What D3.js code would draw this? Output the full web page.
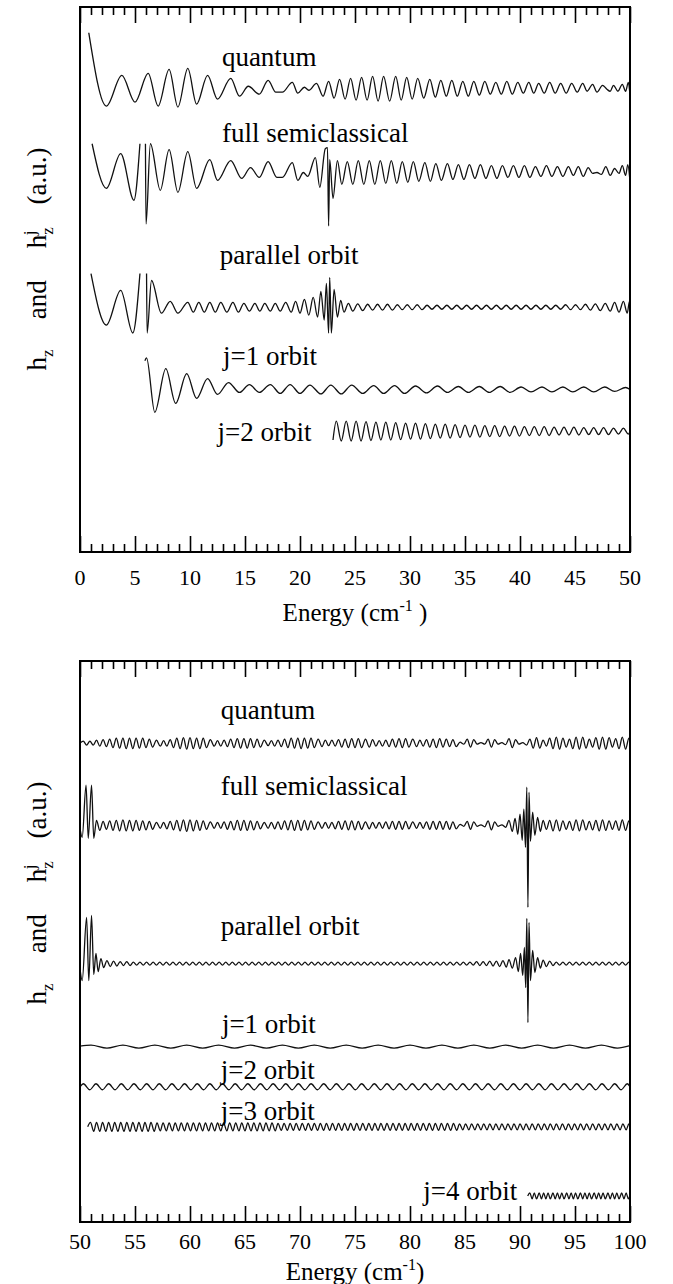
<!DOCTYPE html>
<html>
<head>
<meta charset="utf-8">
<script src="https://cdnjs.cloudflare.com/ajax/libs/d3/7.8.5/d3.min.js"></script>
<style>
  body { margin: 0; background: #fff; }
</style>
</head>
<body>
<svg id="chart" width="673" height="1284" font-family="'Liberation Serif', Tinos, 'Times New Roman', 'DejaVu Serif', serif"></svg>
<script>
// ---- data: extrema [energy (cm^-1), h (a.u., relative to trace baseline)], null = break ----
const tickLabels1 = [0, 5, 10, 15, 20, 25, 30, 35, 40, 45, 50];
const tickLabels2 = [50, 55, 60, 65, 70, 75, 80, 85, 90, 95, 100];
const names1 = ["quantum", "full semiclassical", "parallel orbit", "j=1 orbit", "j=2 orbit"];
const names2 = ["quantum", "full semiclassical", "parallel orbit", "j=1 orbit", "j=2 orbit", "j=3 orbit", "j=4 orbit"];
const offsets1 = [46.8, 38.4, 24.7, 16.4, 12.2];
const offsets2 = [47.8, 39.6, 25.8, 17.5, 13.5, 9.5, 2.6];

const quantum1 = [[0.8,5.6],[2.4,-1.8],[3.8,1.3],[5.0,-1.4],[6.2,1.5],[7.1,-1.8],[8.1,1.9],[8.9,-1.9],[9.8,2.0],[10.6,-1.6],[11.6,1.3],[12.5,-1.1],[13.7,1.0],[14.5,-0.8],[15.3,0.2],[16.3,-0.6],[17.1,0.8],[17.8,-0.4],[18.4,-0.4],[19.3,0.6],[19.8,-0.5],[20.4,0.1],[20.8,-0.2],[21.5,0.5],[22.1,-0.8],[22.6,0.7],[23.1,-1.0],[23.6,0.9],[24.1,-1.1],[24.6,1.0],[25.1,-1.2],[25.6,1.1],[26.1,-1.2],[26.6,1.2],[27.1,-1.3],[27.6,1.2],[28.15,-1.3],[28.7,1.2],[29.2,-1.2],[29.7,1.1],[30.2,-1.1],[30.7,1.0],[31.25,-1.0],[31.8,0.9],[32.3,-0.9],[32.8,0.8],[33.3,-0.8],[33.8,0.8],[34.3,-0.8],[34.8,0.7],[35.3,-0.8],[35.8,0.7],[36.3,-0.7],[36.8,0.7],[37.3,-0.6],[37.8,0.6],[38.3,-0.6],[38.8,0.7],[39.3,-0.6],[39.8,0.6],[40.3,-0.5],[40.8,0.6],[41.25,-0.5],[41.7,0.5],[42.2,-0.5],[42.7,0.6],[43.2,-0.5],[43.7,0.5],[44.2,-0.5],[44.7,0.5],[45.2,-0.4],[45.7,0.5],[46.1,-0.3],[46.6,0.4],[47.0,-0.4],[47.5,0.3],[47.9,-0.1],[48.2,-0.3],[48.5,0.3],[48.9,-0.3],[49.3,0.4],[49.6,-0.3],[49.85,0.6],[50.0,-0.7]];

const semiclassical1 = [[1.1,2.8],[2.4,-1.7],[3.7,1.8],[4.9,-2.9],[5.45,2.8],null,[5.95,2.8],[6.0,-5.3],[6.4,2.8],[7.3,-1.9],[8.1,2.2],[8.9,-2.1],[9.8,2.0],[10.6,-1.7],[11.8,1.2],[12.5,-0.9],[13.7,1.1],[14.7,-0.7],[15.5,0.4],[16.3,-0.6],[17.1,1.0],[17.9,-0.6],[18.4,-0.6],[19.3,0.9],[19.8,-0.9],[20.3,-0.1],[20.7,-0.5],[21.4,1.4],[21.8,-1.6],[22.3,2.3],[22.5,2.4],[22.6,-5.5],[22.7,1.2],[23.0,-2.7],[23.4,1.1],[23.8,-1.3],[24.3,1.0],[24.8,-1.3],[25.3,1.1],[25.8,-1.3],[26.3,1.1],[26.8,-1.3],[27.3,1.1],[27.8,-1.2],[28.3,1.1],[28.8,-1.2],[29.3,1.0],[29.8,-1.1],[30.3,1.0],[30.8,-1.0],[31.35,0.9],[31.85,-1.0],[32.35,0.8],[32.85,-0.9],[33.4,0.8],[33.9,-0.8],[34.4,0.7],[34.9,-0.8],[35.4,0.7],[35.9,-0.7],[36.4,0.7],[36.9,-0.7],[37.4,0.6],[37.9,-0.7],[38.4,0.6],[38.9,-0.6],[39.4,0.6],[39.9,-0.6],[40.4,0.6],[40.9,-0.6],[41.4,0.5],[41.9,-0.5],[42.4,0.6],[42.9,-0.5],[43.4,0.5],[43.9,-0.5],[44.4,0.5],[44.85,-0.4],[45.3,0.5],[45.75,-0.5],[46.2,0.4],[46.6,-0.2],[47.0,-0.1],[47.4,-0.3],[47.8,0.5],[48.2,-0.4],[48.6,0.3],[49.0,-0.2],[49.3,0.6],[49.6,-0.4],[49.8,0.7],[50.0,-1.0]];

const parallel1 = [[1.0,3.4],[2.4,-1.8],[3.7,1.7],[4.8,-2.6],[5.45,3.4],null,[6.05,3.4],[6.1,-2.6],[6.5,2.7],[7.4,-0.6],[8.2,0.6],[8.9,-0.6],[9.8,0.5],[10.3,-0.5],[10.8,0.5],[11.3,-0.5],[11.8,0.5],[12.3,-0.5],[12.8,0.5],[13.35,-0.5],[13.9,0.5],[14.4,-0.5],[14.9,0.4],[15.4,-0.4],[15.9,0.4],[16.35,-0.4],[16.8,0.4],[17.3,-0.4],[17.75,0.4],[18.2,-0.4],[18.7,0.5],[19.2,-0.5],[19.6,0.6],[20.0,-0.6],[20.4,0.8],[20.8,-0.8],[21.2,1.0],[21.6,-1.0],[21.9,1.6],[22.2,-1.3],[22.4,2.4],[22.6,-2.6],[22.7,3.0],[22.85,-2.6],[23.1,1.8],[23.4,-1.0],[23.7,0.7],[24.0,-0.5],[24.4,0.4],[24.8,-0.4],[25.25,0.35],[25.7,-0.35],[26.15,0.3],[26.6,-0.3],[27.05,0.3],[27.5,-0.3],[27.95,0.3],[28.4,-0.3],[28.85,0.25],[29.3,-0.25],[29.75,0.25],[30.2,-0.25],[30.65,0.25],[31.1,-0.25],[31.55,0.2],[32.0,-0.2],[32.45,0.2],[32.9,-0.2],[33.35,0.2],[33.8,-0.2],[34.25,0.2],[34.7,-0.2],[35.15,0.2],[35.6,-0.2],[36.05,0.2],[36.5,-0.2],[36.95,0.2],[37.4,-0.2],[37.85,0.2],[38.3,-0.2],[38.75,0.2],[39.2,-0.2],[39.65,0.2],[40.1,-0.2],[40.55,0.2],[41.0,-0.2],[41.45,0.2],[41.9,-0.2],[42.35,0.2],[42.8,-0.2],[43.25,0.2],[43.7,-0.2],[44.15,0.25],[44.6,-0.25],[45.05,0.25],[45.5,-0.25],[45.95,0.3],[46.4,-0.3],[46.85,0.35],[47.3,-0.35],[47.75,0.4],[48.2,-0.4],[48.6,0.5],[49.0,-0.5],[49.4,0.6],[49.75,-0.6],[49.95,0.6],[50.0,-0.8]];

const orbitJ1a = [[5.9,2.9],[6.05,3.2],[6.8,-2.3],[7.8,2.1],[8.7,-1.4],[9.7,1.6],[10.6,-0.9],[11.6,1.1],[12.5,-0.5],[13.5,0.7],[14.5,-0.3],[15.4,0.5],[16.3,-0.3],[17.3,0.5],[18.2,-0.4],[19.1,0.5],[20.0,-0.4],[20.9,0.45],[21.9,-0.45],[22.8,0.45],[23.75,-0.45],[24.7,0.45],[25.7,-0.4],[26.7,0.4],[27.6,-0.4],[28.6,0.4],[29.5,-0.4],[30.5,0.35],[31.5,-0.35],[32.5,0.35],[33.4,-0.3],[34.4,0.3],[35.3,-0.3],[36.3,0.3],[37.2,-0.3],[38.2,0.3],[39.1,-0.3],[40.1,0.25],[41.0,-0.25],[42.0,0.25],[42.9,-0.25],[43.9,0.25],[44.8,-0.25],[45.8,0.25],[46.7,-0.25],[47.7,0.25],[48.6,-0.2],[49.6,0.2],[50.0,0.0]];

const orbitJ2a = [[23.0,-0.9],[23.3,1.0],[23.75,-1.0],[24.2,1.0],[24.65,-1.0],[25.1,1.0],[25.55,-1.0],[26.0,0.95],[26.45,-0.95],[26.9,0.9],[27.35,-0.9],[27.8,0.9],[28.25,-0.9],[28.7,0.85],[29.15,-0.85],[29.6,0.8],[30.05,-0.8],[30.5,0.8],[30.95,-0.8],[31.4,0.75],[31.85,-0.75],[32.3,0.7],[32.75,-0.7],[33.2,0.7],[33.65,-0.7],[34.1,0.65],[34.55,-0.65],[35.0,0.6],[35.45,-0.6],[35.9,0.6],[36.35,-0.6],[36.8,0.55],[37.25,-0.55],[37.7,0.55],[38.15,-0.55],[38.6,0.5],[39.05,-0.5],[39.5,0.5],[39.95,-0.5],[40.4,0.45],[40.85,-0.45],[41.3,0.45],[41.75,-0.45],[42.2,0.45],[42.65,-0.45],[43.1,0.4],[43.55,-0.4],[44.0,0.4],[44.45,-0.4],[44.9,0.4],[45.35,-0.4],[45.8,0.35],[46.25,-0.35],[46.7,0.35],[47.15,-0.35],[47.6,0.35],[48.05,-0.35],[48.5,0.3],[48.95,-0.3],[49.4,0.3],[49.85,-0.3],[50.0,0.0]];

const quantum2 = [[50.0,0.0],[50.3,0.2],[50.6,-0.2],[50.9,0.2],[51.2,-0.2],[51.5,0.3],[51.8,-0.3],[52.1,0.35],[52.4,-0.35],[52.7,0.4],[53.0,-0.45],[53.3,0.5],[53.6,-0.5],[53.9,0.5],[54.2,-0.55],[54.5,0.5],[54.8,-0.55],[55.1,0.5],[55.4,-0.5],[55.7,0.5],[56.0,-0.45],[56.3,0.4],[56.6,-0.4],[56.95,0.3],[57.3,-0.3],[57.6,0.25],[57.9,-0.3],[58.2,0.35],[58.5,-0.45],[58.8,0.5],[59.1,-0.55],[59.4,0.55],[59.7,-0.6],[60.0,0.55],[60.3,-0.55],[60.6,0.5],[60.9,-0.55],[61.2,0.5],[61.5,-0.45],[61.85,0.35],[62.2,-0.3],[62.5,0.25],[62.8,-0.3],[63.1,0.3],[63.4,-0.35],[63.7,0.4],[64.0,-0.45],[64.3,0.45],[64.6,-0.5],[64.9,0.45],[65.2,-0.5],[65.5,0.45],[65.8,-0.45],[66.1,0.4],[66.4,-0.4],[66.75,0.3],[67.1,-0.25],[67.4,0.25],[67.7,-0.3],[68.0,0.3],[68.3,-0.35],[68.6,0.4],[68.9,-0.45],[69.2,0.5],[69.5,-0.5],[69.8,0.5],[70.1,-0.55],[70.4,0.5],[70.7,-0.5],[71.0,0.5],[71.3,-0.45],[71.65,0.4],[72.0,-0.35],[72.3,0.3],[72.6,-0.25],[72.9,0.3],[73.2,-0.3],[73.5,0.35],[73.8,-0.4],[74.1,0.4],[74.4,-0.45],[74.7,0.45],[75.0,-0.45],[75.3,0.45],[75.6,-0.45],[75.95,0.4],[76.3,-0.4],[76.6,0.35],[76.9,-0.3],[77.2,0.25],[77.5,-0.3],[77.8,0.3],[78.1,-0.35],[78.4,0.4],[78.7,-0.4],[79.0,0.45],[79.3,-0.45],[79.6,0.45],[79.9,-0.4],[80.25,0.4],[80.6,-0.35],[80.9,0.3],[81.2,-0.3],[81.5,0.35],[81.8,-0.4],[82.1,0.4],[82.4,-0.45],[82.7,0.45],[83.0,-0.4],[83.3,0.4],[83.6,-0.35],[83.9,0.35],[84.2,-0.35],[84.55,0.1],[84.9,-0.1],[85.2,0.4],[85.5,-0.4],[85.8,0.35],[86.1,-0.1],[86.45,0.05],[86.8,-0.1],[87.1,0.4],[87.4,-0.4],[87.7,0.35],[88.0,-0.1],[88.35,0.05],[88.7,-0.15],[89.0,0.45],[89.3,-0.45],[89.6,0.35],[89.9,-0.1],[90.25,0.05],[90.6,-0.2],[90.9,0.4],[91.2,-0.5],[91.5,0.55],[91.8,-0.5],[92.1,0.3],[92.4,-0.3],[92.7,0.5],[93.0,-0.55],[93.3,0.6],[93.6,-0.6],[93.9,0.5],[94.2,-0.4],[94.5,0.4],[94.8,-0.55],[95.1,0.6],[95.4,-0.6],[95.7,0.6],[96.0,-0.5],[96.3,0.4],[96.6,-0.4],[96.9,0.55],[97.2,-0.6],[97.5,0.6],[97.8,-0.6],[98.1,0.55],[98.4,-0.4],[98.7,0.45],[99.0,-0.55],[99.3,0.6],[99.6,-0.6],[99.9,0.5],[100.0,0.2]];

const semiclassical2 = [[50.0,-0.3],[50.2,-1.2],[50.55,4.0],[50.75,-1.3],[51.05,4.0],[51.25,-1.3],[51.5,0.5],[51.8,-0.5],[52.1,0.4],[52.4,-0.4],[52.7,0.45],[53.0,-0.5],[53.3,0.5],[53.6,-0.55],[53.9,0.55],[54.2,-0.55],[54.5,0.5],[54.8,-0.55],[55.1,0.5],[55.4,-0.5],[55.7,0.45],[56.0,-0.45],[56.3,0.4],[56.6,-0.4],[56.95,0.3],[57.3,-0.3],[57.6,0.3],[57.9,-0.35],[58.2,0.4],[58.5,-0.45],[58.8,0.5],[59.1,-0.55],[59.4,0.55],[59.7,-0.6],[60.0,0.55],[60.3,-0.55],[60.6,0.5],[60.9,-0.5],[61.2,0.45],[61.5,-0.4],[61.85,0.35],[62.2,-0.3],[62.5,0.3],[62.8,-0.3],[63.1,0.35],[63.4,-0.4],[63.7,0.4],[64.0,-0.45],[64.3,0.5],[64.6,-0.5],[64.9,0.5],[65.2,-0.5],[65.5,0.45],[65.8,-0.45],[66.1,0.4],[66.4,-0.35],[66.75,0.3],[67.1,-0.3],[67.4,0.3],[67.7,-0.35],[68.0,0.35],[68.3,-0.4],[68.6,0.45],[68.9,-0.45],[69.2,0.5],[69.5,-0.5],[69.8,0.5],[70.1,-0.5],[70.4,0.5],[70.7,-0.45],[71.0,0.45],[71.3,-0.4],[71.65,0.35],[72.0,-0.3],[72.3,0.3],[72.6,-0.3],[72.9,0.3],[73.2,-0.35],[73.5,0.4],[73.8,-0.4],[74.1,0.45],[74.4,-0.45],[74.7,0.45],[75.0,-0.45],[75.3,0.4],[75.6,-0.4],[75.95,0.35],[76.3,-0.35],[76.6,0.3],[76.9,-0.3],[77.2,0.3],[77.5,-0.3],[77.8,0.35],[78.1,-0.35],[78.4,0.4],[78.7,-0.4],[79.0,0.4],[79.3,-0.4],[79.6,0.4],[79.9,-0.35],[80.25,0.35],[80.6,-0.3],[80.9,0.3],[81.2,-0.3],[81.5,0.35],[81.8,-0.4],[82.1,0.4],[82.4,-0.4],[82.7,0.4],[83.0,-0.4],[83.3,0.4],[83.6,-0.4],[83.9,0.35],[84.2,-0.35],[84.55,0.1],[84.9,-0.1],[85.2,0.4],[85.5,-0.4],[85.8,0.35],[86.1,-0.1],[86.45,0.05],[86.8,-0.15],[87.1,0.45],[87.4,-0.45],[87.7,0.35],[88.0,-0.1],[88.35,0.05],[88.7,-0.2],[89.0,0.5],[89.3,-0.6],[89.55,0.7],[89.8,-0.9],[90.0,1.1],[90.2,-1.5],[90.35,1.6],[90.5,-2.2],[90.62,3.8],[90.72,-8.2],[90.82,3.3],[90.95,-1.6],[91.15,1.3],[91.35,-1.0],[91.6,0.8],[91.85,-0.6],[92.1,0.5],[92.4,-0.4],[92.7,0.5],[93.0,-0.55],[93.3,0.55],[93.6,-0.55],[93.9,0.45],[94.2,-0.4],[94.5,0.4],[94.8,-0.5],[95.1,0.55],[95.4,-0.55],[95.7,0.55],[96.0,-0.45],[96.3,0.4],[96.6,-0.45],[96.9,0.5],[97.2,-0.55],[97.5,0.55],[97.8,-0.5],[98.1,0.45],[98.4,-0.4],[98.7,0.45],[99.0,-0.5],[99.3,0.55],[99.6,-0.5],[99.9,0.45],[100.0,0.1]];

const parallel2 = [[50.0,-0.5],[50.2,-1.7],[50.6,4.6],[50.8,-1.7],[51.05,4.8],[51.25,-1.1],[51.45,1.0],[51.65,-0.8],[51.9,0.5],[52.15,-0.4],[52.45,0.3],[52.75,-0.3],[53.05,0.25],[53.35,-0.25],[53.65,0.2],[53.95,-0.2],[54.25,0.2],[54.55,-0.2],[54.85,0.15],[55.15,-0.15],[55.45,0.15],[55.75,-0.15],[56.05,0.15],[56.35,-0.15],[56.65,0.15],[56.95,-0.15],[57.25,0.15],[57.55,-0.15],[57.85,0.15],[58.15,-0.15],[58.45,0.15],[58.75,-0.15],[59.05,0.15],[59.35,-0.15],[59.65,0.15],[59.95,-0.15],[60.25,0.15],[60.55,-0.15],[60.85,0.15],[61.15,-0.15],[61.45,0.15],[61.75,-0.15],[62.05,0.15],[62.35,-0.15],[62.65,0.15],[62.95,-0.15],[63.25,0.15],[63.55,-0.15],[63.85,0.15],[64.15,-0.15],[64.45,0.15],[64.75,-0.15],[65.05,0.15],[65.35,-0.15],[65.65,0.15],[65.95,-0.15],[66.25,0.15],[66.55,-0.15],[66.85,0.15],[67.15,-0.15],[67.45,0.15],[67.75,-0.15],[68.05,0.15],[68.35,-0.15],[68.65,0.15],[68.95,-0.15],[69.25,0.15],[69.55,-0.15],[69.85,0.15],[70.15,-0.15],[70.45,0.15],[70.75,-0.15],[71.05,0.15],[71.35,-0.15],[71.65,0.15],[71.95,-0.15],[72.25,0.15],[72.55,-0.15],[72.85,0.15],[73.15,-0.15],[73.45,0.15],[73.75,-0.15],[74.05,0.15],[74.35,-0.15],[74.65,0.15],[74.95,-0.15],[75.25,0.15],[75.55,-0.15],[75.85,0.15],[76.15,-0.15],[76.45,0.15],[76.75,-0.15],[77.05,0.15],[77.35,-0.15],[77.65,0.15],[77.95,-0.15],[78.25,0.15],[78.55,-0.15],[78.85,0.15],[79.15,-0.15],[79.45,0.15],[79.75,-0.15],[80.05,0.15],[80.35,-0.15],[80.65,0.15],[80.95,-0.15],[81.25,0.15],[81.55,-0.15],[81.85,0.15],[82.15,-0.15],[82.45,0.15],[82.75,-0.15],[83.05,0.15],[83.35,-0.15],[83.65,0.15],[83.95,-0.15],[84.25,0.15],[84.55,-0.15],[84.85,0.15],[85.15,-0.15],[85.45,0.15],[85.75,-0.15],[86.05,0.2],[86.35,-0.2],[86.65,0.2],[86.95,-0.2],[87.25,0.25],[87.55,-0.25],[87.85,0.25],[88.15,-0.3],[88.45,0.3],[88.75,-0.35],[89.0,0.4],[89.3,-0.45],[89.6,0.6],[89.85,-0.8],[90.05,1.0],[90.25,-1.2],[90.4,1.6],[90.52,-2.4],[90.62,4.5],[90.72,-5.9],[90.82,4.1],[90.95,-1.7],[91.15,1.3],[91.35,-0.9],[91.6,0.6],[91.85,-0.45],[92.1,0.35],[92.4,-0.3],[92.7,0.25],[93.0,-0.2],[93.3,0.15],[93.6,-0.15],[93.9,0.15],[94.2,-0.15],[94.5,0.15],[94.8,-0.15],[95.1,0.15],[95.4,-0.15],[95.7,0.15],[96.0,-0.15],[96.3,0.15],[96.6,-0.15],[96.9,0.15],[97.2,-0.15],[97.5,0.15],[97.8,-0.15],[98.1,0.15],[98.4,-0.15],[98.7,0.15],[99.0,-0.15],[99.3,0.15],[99.6,-0.15],[99.9,0.15],[100.0,0.0]];

const orbitJ1b = [[50.0,0.05],[51.0,0.15],[52.45,-0.15],[53.9,0.15],[55.35,-0.15],[56.8,0.15],[58.25,-0.15],[59.7,0.15],[61.15,-0.15],[62.6,0.15],[64.05,-0.15],[65.5,0.15],[66.95,-0.15],[68.4,0.15],[69.85,-0.15],[71.3,0.15],[72.75,-0.15],[74.2,0.15],[75.65,-0.15],[77.1,0.15],[78.55,-0.15],[80.0,0.15],[81.45,-0.15],[82.9,0.15],[84.35,-0.15],[85.8,0.15],[87.25,-0.15],[88.7,0.15],[90.15,-0.15],[91.6,0.15],[93.05,-0.15],[94.5,0.15],[95.95,-0.15],[97.4,0.15],[98.85,-0.15],[100.0,0.1]];

const orbitJ2b = [[50.0,0.0],[50.3,0.3],[50.9,-0.3],[51.45,0.3],[52.05,-0.3],[52.6,0.3],[53.2,-0.3],[53.75,0.3],[54.35,-0.3],[54.9,0.3],[55.5,-0.3],[56.05,0.3],[56.65,-0.3],[57.2,0.3],[57.8,-0.3],[58.35,0.3],[58.95,-0.3],[59.5,0.3],[60.1,-0.3],[60.65,0.3],[61.25,-0.3],[61.8,0.3],[62.4,-0.3],[62.95,0.3],[63.55,-0.3],[64.1,0.3],[64.7,-0.3],[65.25,0.3],[65.85,-0.3],[66.4,0.3],[67.0,-0.3],[67.55,0.3],[68.15,-0.3],[68.7,0.3],[69.3,-0.3],[69.85,0.3],[70.45,-0.3],[71.0,0.3],[71.6,-0.3],[72.15,0.3],[72.75,-0.3],[73.3,0.3],[73.9,-0.3],[74.45,0.3],[75.05,-0.3],[75.6,0.3],[76.2,-0.3],[76.75,0.3],[77.35,-0.3],[77.9,0.3],[78.5,-0.3],[79.05,0.3],[79.65,-0.3],[80.2,0.3],[80.8,-0.3],[81.35,0.3],[81.95,-0.3],[82.5,0.3],[83.1,-0.3],[83.65,0.3],[84.25,-0.3],[84.8,0.3],[85.4,-0.3],[85.95,0.3],[86.55,-0.3],[87.1,0.3],[87.7,-0.3],[88.25,0.3],[88.85,-0.3],[89.4,0.3],[90.0,-0.3],[90.55,0.3],[91.15,-0.3],[91.7,0.3],[92.3,-0.3],[92.85,0.3],[93.45,-0.3],[94.0,0.3],[94.6,-0.3],[95.15,0.3],[95.75,-0.3],[96.3,0.3],[96.9,-0.3],[97.45,0.3],[98.05,-0.3],[98.6,0.3],[99.2,-0.3],[99.75,0.3],[100.0,0.0]];

const orbitJ3b = [[50.7,0.0],[50.95,0.45],[51.25,-0.45],[51.5,0.45],[51.8,-0.45],[52.05,0.45],[52.35,-0.45],[52.6,0.45],[52.9,-0.45],[53.15,0.45],[53.45,-0.45],[53.7,0.45],[54.0,-0.45],[54.25,0.45],[54.55,-0.45],[54.8,0.45],[55.1,-0.45],[55.35,0.45],[55.65,-0.45],[55.9,0.45],[56.2,-0.45],[56.45,0.45],[56.75,-0.45],[57.0,0.4],[57.3,-0.4],[57.55,0.4],[57.85,-0.4],[58.1,0.4],[58.4,-0.4],[58.65,0.4],[58.95,-0.4],[59.2,0.4],[59.5,-0.4],[59.75,0.4],[60.05,-0.4],[60.3,0.4],[60.6,-0.4],[60.85,0.4],[61.15,-0.4],[61.4,0.4],[61.7,-0.4],[61.95,0.4],[62.25,-0.4],[62.5,0.4],[62.8,-0.4],[63.05,0.4],[63.35,-0.4],[63.6,0.4],[63.9,-0.4],[64.15,0.4],[64.45,-0.4],[64.7,0.4],[65.0,-0.4],[65.25,0.4],[65.55,-0.4],[65.8,0.4],[66.1,-0.4],[66.35,0.4],[66.65,-0.4],[66.9,0.4],[67.2,-0.4],[67.45,0.4],[67.75,-0.4],[68.0,0.35],[68.3,-0.35],[68.55,0.35],[68.85,-0.35],[69.1,0.35],[69.4,-0.35],[69.65,0.35],[69.95,-0.35],[70.2,0.35],[70.5,-0.35],[70.75,0.35],[71.05,-0.35],[71.3,0.35],[71.6,-0.35],[71.85,0.35],[72.15,-0.35],[72.4,0.35],[72.7,-0.35],[72.95,0.35],[73.25,-0.35],[73.5,0.35],[73.8,-0.35],[74.05,0.35],[74.35,-0.35],[74.6,0.35],[74.9,-0.35],[75.15,0.35],[75.45,-0.35],[75.7,0.35],[76.0,-0.35],[76.25,0.35],[76.55,-0.35],[76.8,0.35],[77.1,-0.35],[77.35,0.35],[77.65,-0.35],[77.9,0.35],[78.2,-0.35],[78.45,0.35],[78.75,-0.35],[79.0,0.35],[79.3,-0.35],[79.55,0.35],[79.85,-0.35],[80.1,0.35],[80.4,-0.35],[80.65,0.35],[80.95,-0.35],[81.2,0.35],[81.5,-0.35],[81.75,0.35],[82.05,-0.35],[82.3,0.35],[82.6,-0.35],[82.85,0.35],[83.15,-0.35],[83.4,0.35],[83.7,-0.35],[83.95,0.35],[84.25,-0.35],[84.5,0.3],[84.8,-0.3],[85.05,0.3],[85.35,-0.3],[85.6,0.3],[85.9,-0.3],[86.15,0.3],[86.45,-0.3],[86.7,0.3],[87.0,-0.3],[87.25,0.3],[87.55,-0.3],[87.8,0.3],[88.1,-0.3],[88.35,0.3],[88.65,-0.3],[88.9,0.3],[89.2,-0.3],[89.45,0.3],[89.75,-0.3],[90.0,0.3],[90.3,-0.3],[90.55,0.3],[90.85,-0.3],[91.1,0.3],[91.4,-0.3],[91.65,0.3],[91.95,-0.3],[92.2,0.3],[92.5,-0.3],[92.75,0.3],[93.05,-0.3],[93.3,0.3],[93.6,-0.3],[93.85,0.3],[94.15,-0.3],[94.4,0.3],[94.7,-0.3],[94.95,0.3],[95.25,-0.3],[95.5,0.3],[95.8,-0.3],[96.05,0.3],[96.35,-0.3],[96.6,0.3],[96.9,-0.3],[97.15,0.3],[97.45,-0.3],[97.7,0.3],[98.0,-0.3],[98.25,0.3],[98.55,-0.3],[98.8,0.3],[99.1,-0.3],[99.35,0.3],[99.65,-0.3],[99.9,0.3],[100.0,0.0]];

const orbitJ4b = [[90.7,0.0],[90.9,0.3],[91.1,-0.3],[91.3,0.3],[91.5,-0.3],[91.75,0.3],[91.95,-0.3],[92.15,0.3],[92.35,-0.3],[92.55,0.3],[92.75,-0.3],[93.0,0.3],[93.2,-0.3],[93.4,0.3],[93.6,-0.3],[93.8,0.3],[94.0,-0.3],[94.25,0.3],[94.45,-0.3],[94.65,0.3],[94.85,-0.3],[95.05,0.3],[95.25,-0.3],[95.5,0.3],[95.7,-0.3],[95.9,0.3],[96.1,-0.3],[96.3,0.3],[96.5,-0.3],[96.75,0.3],[96.95,-0.3],[97.15,0.3],[97.35,-0.3],[97.55,0.3],[97.75,-0.3],[98.0,0.3],[98.2,-0.3],[98.4,0.3],[98.6,-0.3],[98.8,0.3],[99.0,-0.3],[99.25,0.3],[99.45,-0.3],[99.65,0.3],[99.85,-0.3],[100.0,0.1]];

// ---- layout ----
const FONT = "'Liberation Serif', Tinos, 'Times New Roman', 'DejaVu Serif', serif";
const svg = d3.select("#chart");
const panels = [
  { left: 80, right: 630, top: 7, bottom: 552, xDomain: [0, 50], yDomain: [0, 55],
    series: [quantum1, semiclassical1, parallel1, orbitJ1a, orbitJ2a], names: names1, offsets: offsets1,
    labelAt: [[12.9, 49.05], [12.9, 41.4], [12.7, 29.1], [13.0, 18.9], [12.5, 11.2]],
    ticks: tickLabels1, tickY: 585, titleY: 621, titleTail: " )", ylabelY: 259 },
  { left: 80, right: 630, top: 661, bottom: 1222, xDomain: [50, 100], yDomain: [0, 56],
    series: [quantum2, semiclassical2, parallel2, orbitJ1b, orbitJ2b, orbitJ3b, orbitJ4b], names: names2, offsets: offsets2,
    labelAt: [[62.8, 50.2], [62.8, 42.6], [62.8, 28.6], [62.9, 18.9], [62.8, 14.3], [62.8, 10.2], [81.2, 2.2]],
    ticks: tickLabels2, tickY: 1249, titleY: 1280, titleTail: ")", ylabelY: 893 }
];

panels.forEach((p, i) => {
  const x = d3.scaleLinear().domain(p.xDomain).range([p.left, p.right]);
  const y = d3.scaleLinear().domain(p.yDomain).range([p.bottom, p.top]);
  const g = svg.append("g");

  g.append("clipPath").attr("id", "clip" + i)
    .append("rect").attr("x", p.left).attr("y", p.top)
    .attr("width", p.right - p.left).attr("height", p.bottom - p.top);

  // traces
  p.series.forEach((s, k) => {
    const off = p.offsets[k];
    const line = d3.line()
      .defined(d => d !== null)
      .x(d => x(d[0]))
      .y(d => y(d[1] + off))
      .curve(d3.curveMonotoneX);
    g.append("path").datum(s)
      .attr("clip-path", `url(#clip${i})`)
      .attr("d", line)
      .attr("fill", "none")
      .attr("stroke", "#111")
      .attr("stroke-width", 1.3);
  });

  // trace labels
  p.names.forEach((n, k) => {
    g.append("text")
      .attr("x", x(p.labelAt[k][0]))
      .attr("y", y(p.labelAt[k][1]))
      .attr("font-family", FONT)
      .style("font-size", "27px")
      .text(n);
  });

  // ticks: majors every 5, minors every 1, top and bottom, inward
  const minor = d3.range(p.xDomain[0], p.xDomain[1] + 1).filter(v => v % 5 !== 0);
  const axes = [
    g.append("g").attr("transform", `translate(0,${p.bottom})`)
      .call(d3.axisBottom(x).tickValues(p.ticks).tickSize(-16).tickFormat("")),
    g.append("g").attr("transform", `translate(0,${p.bottom})`)
      .call(d3.axisBottom(x).tickValues(minor).tickSize(-8).tickFormat("")),
    g.append("g").attr("transform", `translate(0,${p.top})`)
      .call(d3.axisTop(x).tickValues(p.ticks).tickSize(-16).tickFormat("")),
    g.append("g").attr("transform", `translate(0,${p.top})`)
      .call(d3.axisTop(x).tickValues(minor).tickSize(-8).tickFormat(""))
  ];
  axes.forEach(a => {
    a.select(".domain").remove();
    a.selectAll(".tick line").attr("stroke", "#000").attr("stroke-width", 1.6);
  });

  // tick labels
  g.selectAll(null).data(p.ticks).join("text")
    .attr("x", d => x(d))
    .attr("y", p.tickY)
    .attr("text-anchor", "middle")
    .attr("font-family", FONT)
    .style("font-size", "22px")
    .text(d => d);

  // frame
  g.append("rect")
    .attr("x", p.left).attr("y", p.top)
    .attr("width", p.right - p.left).attr("height", p.bottom - p.top)
    .attr("fill", "none").attr("stroke", "#000").attr("stroke-width", 2);

  // x title
  const xt = g.append("text")
    .attr("x", (p.left + p.right) / 2).attr("y", p.titleY)
    .attr("text-anchor", "middle").attr("font-family", FONT).style("font-size", "25px");
  xt.append("tspan").text("Energy (cm");
  xt.append("tspan").attr("dy", -10).style("font-size", "16px").text("-1");
  xt.append("tspan").attr("dy", 10).text(p.titleTail);

  // y title
  const yt = g.append("text")
    .attr("transform", `translate(46,${p.ylabelY}) rotate(-90)`)
    .attr("text-anchor", "middle").attr("font-family", FONT).style("font-size", "27px");
  yt.append("tspan").text("h");
  yt.append("tspan").attr("dy", 7).style("font-size", "17px").text("z");
  yt.append("tspan").attr("dy", -7).attr("dx", 30).text("and");
  yt.append("tspan").attr("dx", 32).text("h");
  yt.append("tspan").attr("dy", 7).style("font-size", "17px").text("z");
  yt.append("tspan").attr("dx", -8).attr("dy", -18).style("font-size", "17px").text("j");
  yt.append("tspan").attr("dy", 11).attr("dx", 26).text("(a.u.)");
});
</script>
</body>
</html>
